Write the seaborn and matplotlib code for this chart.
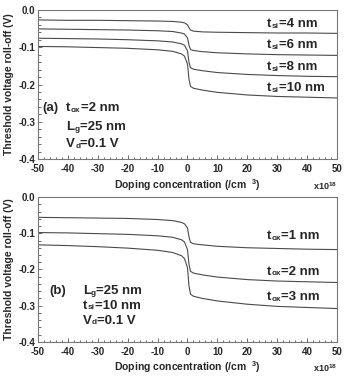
import numpy as np
import pandas as pd
import matplotlib
matplotlib.use("Agg")
import matplotlib.pyplot as plt
import seaborn as sns
from matplotlib.ticker import MultipleLocator

# doping concentration (x1e18 /cm^3)
doping = [-50, -40, -30, -20, -10, -5, -2, -1, 0, 0.5, 1, 2, 5, 10, 20, 30, 40, 50]

# panel (a): tox = 2 nm, various tsi
tsi_4 = [-0.027, -0.028, -0.028, -0.029, -0.030, -0.031, -0.033, -0.035, -0.040, -0.048, -0.054, -0.057, -0.059, -0.060, -0.061, -0.062, -0.062, -0.063]
tsi_6 = [-0.051, -0.052, -0.053, -0.054, -0.056, -0.058, -0.062, -0.065, -0.075, -0.095, -0.106, -0.109, -0.112, -0.115, -0.118, -0.120, -0.121, -0.122]
tsi_8 = [-0.076, -0.077, -0.078, -0.080, -0.083, -0.086, -0.091, -0.095, -0.110, -0.140, -0.155, -0.159, -0.163, -0.168, -0.173, -0.176, -0.178, -0.179]
tsi_10 = [-0.098, -0.099, -0.101, -0.103, -0.107, -0.111, -0.118, -0.124, -0.145, -0.185, -0.205, -0.210, -0.215, -0.221, -0.228, -0.232, -0.234, -0.236]

# panel (b): tsi = 10 nm, various tox
tox_1 = [-0.056, -0.057, -0.058, -0.059, -0.062, -0.065, -0.070, -0.074, -0.085, -0.110, -0.125, -0.129, -0.132, -0.136, -0.140, -0.142, -0.144, -0.145]
tox_2 = tsi_10
tox_3 = [-0.132, -0.134, -0.137, -0.141, -0.147, -0.153, -0.162, -0.170, -0.195, -0.245, -0.268, -0.274, -0.280, -0.287, -0.296, -0.302, -0.305, -0.308]

labels_a = ["4", "6", "8", "10"]
labels_b = ["1", "2", "3"]

sns.set_style("ticks")
plt.rcParams["font.family"] = ["Liberation Sans", "DejaVu Sans"]
plt.rcParams["font.weight"] = "bold"
plt.rcParams["axes.unicode_minus"] = False
plt.rcParams["mathtext.fontset"] = "custom"
plt.rcParams["mathtext.rm"] = "Liberation Sans:bold"
plt.rcParams["mathtext.bf"] = "Liberation Sans:bold"
plt.rcParams["mathtext.default"] = "bf"

fig = plt.figure(figsize=(3.44, 3.79), dpi=100)
ax1 = fig.add_axes([0.110, 0.580, 0.870, 0.394])
ax2 = fig.add_axes([0.110, 0.098, 0.870, 0.382])

df_a = pd.DataFrame({"x": doping * 4,
                     "y": tsi_4 + tsi_6 + tsi_8 + tsi_10,
                     "c": [l for l in labels_a for _ in doping]})
df_b = pd.DataFrame({"x": doping * 3,
                     "y": tox_1 + tox_2 + tox_3,
                     "c": [l for l in labels_b for _ in doping]})

line_col = "#4a4a4a"
sns.lineplot(data=df_a, x="x", y="y", hue="c", palette=[line_col] * 4,
             legend=False, ax=ax1, lw=0.8)
sns.lineplot(data=df_b, x="x", y="y", hue="c", palette=[line_col] * 3,
             legend=False, ax=ax2, lw=0.8)

for ax in (ax1, ax2):
    ax.set_xlim(-50, 50)
    ax.set_ylim(-0.4, 0.0)
    ax.xaxis.set_major_locator(MultipleLocator(10))
    ax.xaxis.set_minor_locator(MultipleLocator(2))
    ax.yaxis.set_major_locator(MultipleLocator(0.1))
    ax.yaxis.set_minor_locator(MultipleLocator(0.02))
    ax.tick_params(which="both", direction="in", labelsize=7, color="#555555",
                   width=0.6, pad=2)
    ax.tick_params(axis="x", which="both", pad=3.5)
    ax.tick_params(which="major", length=3)
    ax.tick_params(which="minor", length=1.8)
    ax.set_yticks([0.0, -0.1, -0.2, -0.3, -0.4])
    ax.set_yticklabels(["0.0", "-0.1", "-0.2", "-0.3", "-0.4"])
    for lab in ax.get_xticklabels() + ax.get_yticklabels():
        lab.set_fontweight("bold")
    for s in ax.spines.values():
        s.set_color("#777777")
        s.set_linewidth(0.8)
    ax.set_xlabel(r"Doping concentration (/cm  $^{3}$)", fontsize=7.5, fontweight="bold",
                  labelpad=2)
    ax.set_ylabel("Threshold voltage roll-off (V)", fontsize=7.5, fontweight="bold",
                  labelpad=3)
    ax.text(1.0, -0.14, r"x10$^{18}$", transform=ax.transAxes, ha="right",
            va="top", fontsize=6.5, fontweight="bold")


def sub_text(ax, x, y, main, sub, rest, fs=9.5):
    # main letter, small "subscript" close to baseline, then the remaining text
    w_main = {"t": 0.36, "L": 0.62, "V": 0.68}[main] * fs
    ax.text(x, y, main, fontsize=fs, fontweight="bold")
    ax.annotate(sub, (x, y), xytext=(w_main, -0.5), textcoords="offset points",
                fontsize=fs * 0.62, fontweight="bold", va="baseline")
    w_sub = {"si": 0.86, "ox": 1.2, "g": 0.62, "d": 0.62}[sub] * fs * 0.62
    ax.annotate(rest, (x, y), xytext=(w_main + w_sub, 0), textcoords="offset points",
                fontsize=fs, fontweight="bold", va="baseline")


for lab, y in zip(labels_a, [-0.047, -0.102, -0.162, -0.217]):
    sub_text(ax1, 26.5, y, "t", "si", "=" + lab + " nm")
ax1.text(-48.5, -0.272, "(a)", fontsize=9.5, fontweight="bold")
sub_text(ax1, -40.5, -0.272, "t", "ox", "=2 nm")
sub_text(ax1, -40.5, -0.322, "L", "g", "=25 nm")
sub_text(ax1, -40.5, -0.367, "V", "d", "=0.1 V")

for lab, y in zip(labels_b, [-0.117, -0.214, -0.284]):
    sub_text(ax2, 26.5, y, "t", "ox", "=" + lab + " nm")
ax2.text(-46, -0.268, "(b)", fontsize=9.5, fontweight="bold")
sub_text(ax2, -35.0, -0.268, "L", "g", "=25 nm")
sub_text(ax2, -35.0, -0.308, "t", "si", "=10 nm")
sub_text(ax2, -35.0, -0.350, "V", "d", "=0.1 V")

fig.savefig("out.png", dpi=100)
